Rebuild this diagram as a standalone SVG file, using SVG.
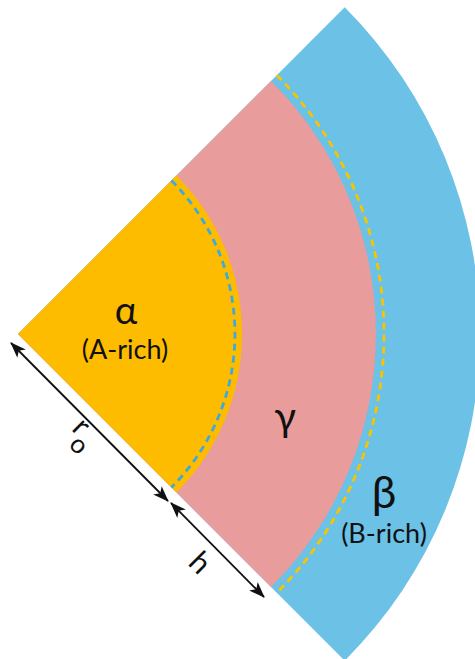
<svg xmlns="http://www.w3.org/2000/svg" width="475" height="659" viewBox="0 0 475 659">
<style>
.lbl{font-family:Lato,"Liberation Sans",sans-serif;fill:#111;text-anchor:middle}
.dim{stroke:#111;stroke-width:1.8;fill:none;marker-start:url(#ah);marker-end:url(#ah)}
.dash{fill:none;stroke-width:2.8;stroke-dasharray:7 5}
</style>
<defs>
<marker id="ah" viewBox="0 0 16 12" refX="15" refY="6" markerWidth="16" markerHeight="12" markerUnits="userSpaceOnUse" orient="auto-start-reverse">
<path d="M0,0 L16,6 L0,12 L4,6 Z" fill="#111"/>
</marker>
</defs>
<g id="beta-phase">
<path d="M18,334 L344.7,7.3 A462,462 0 0 1 344.7,660.7 Z" fill="#6BC1E6"/>
</g>
<g id="gamma-phase">
<path d="M18,334 L271.1,80.9 A358,358 0 0 1 271.1,587.1 Z" fill="#E89C9C"/>
<path class="dash" stroke="#F7C500" d="M276.8,75.2 A366,366 0 0 1 276.8,592.8"/>
</g>
<g id="alpha-phase">
<path d="M18,334 L176.4,175.6 A224,224 0 0 1 176.4,492.4 Z" fill="#FDBC00"/>
<path class="dash" stroke="#3FAAD8" d="M171.4,180.6 A217,217 0 0 1 171.4,487.4"/>
</g>
<g id="labels">
<text class="lbl" x="126" y="324" font-size="38">α</text>
<text class="lbl" x="125" y="359" font-size="27">(A-rich)</text>
<text class="lbl" x="285" y="431" font-size="40">γ</text>
<text class="lbl" x="384" y="508" font-size="44">β</text>
<text class="lbl" x="384" y="543" font-size="27">(B-rich)</text>
</g>
<g id="connectors">
<line class="dim" x1="11" y1="343" x2="168" y2="501"/>
<line class="dim" x1="171" y1="503" x2="264" y2="597"/>
<text class="lbl" font-size="30" transform="translate(74.7,433.3) rotate(45)">r</text>
<text class="lbl" font-size="26" transform="translate(73,451) rotate(45)">o</text>
<text class="lbl" font-size="30" transform="translate(193,570) rotate(45)">h</text>
</g>
</svg>
